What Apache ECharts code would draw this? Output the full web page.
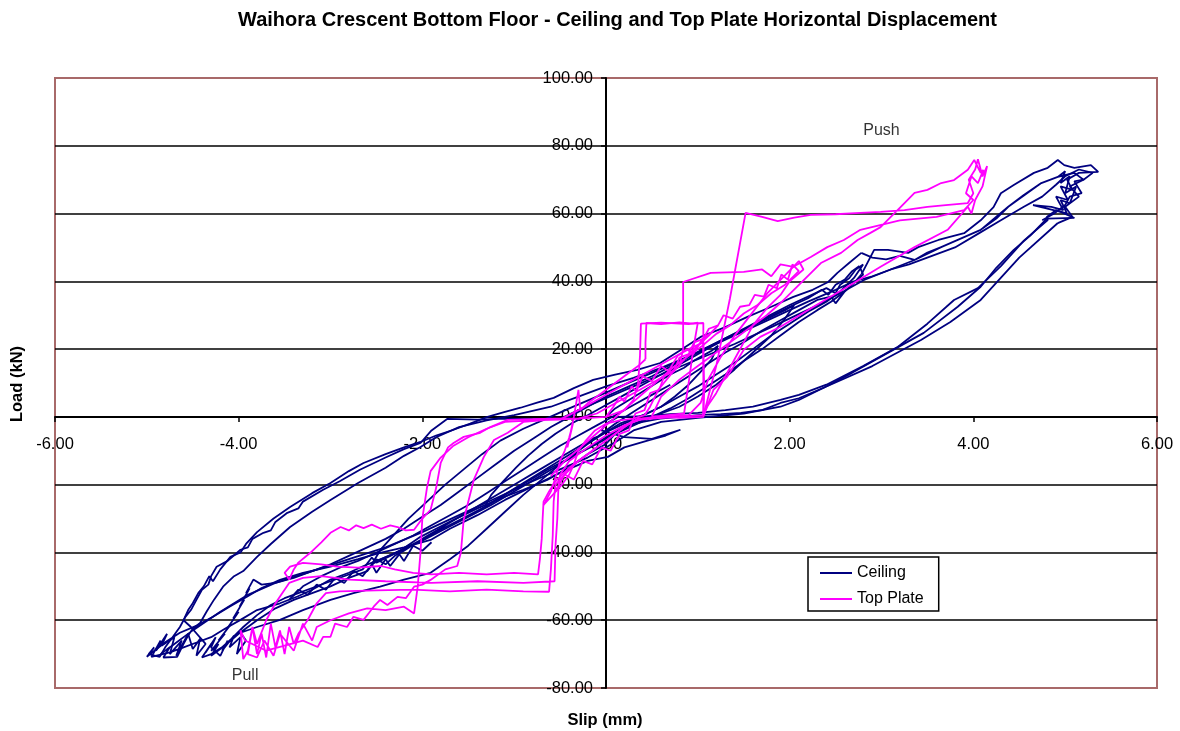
<!DOCTYPE html>
<html>
<head>
<meta charset="utf-8">
<script src="https://cdn.jsdelivr.net/npm/echarts@6/dist/echarts.min.js"></script>
<style>
html,body{margin:0;padding:0;background:#fff;}
#chart{width:1180px;height:731px;}
</style>
</head>
<body>
<div id="chart"></div>
<script>
// Slip (mm) vs load (kN) traces, stored as [slip, load] pairs per loading stage.
const yTicks = [-80, -60, -40, -20, 0, 20, 40, 60, 80, 100];
const xTicks = [-6, -4, -2, 0, 2, 4, 6];

// ---- Ceiling ----
const ceilingSmall = [
  [0,0],[0.1,2.5],[0.25,5],[0.4,7.5],[0.55,10],[0.7,12.5],[0.85,14.5],[0.95,16.5],[1.05,18],[1.15,19.5],[1.22,21],
  [1.15,17],[1.02,13],[0.9,9.5],[0.75,6],[0.6,3],[0.45,1],[0.3,-0.5],[0.15,-2],[0,-4.5],[-0.15,-7],[-0.3,-9.5],[-0.45,-12],[-0.6,-14.5],[-0.75,-17],[-0.9,-19.5],[-1.05,-22],[-1.2,-24.5],[-1.32,-26.5],
  [-1.25,-23],[-1.12,-19],[-0.98,-15],[-0.85,-11.5],[-0.7,-8],[-0.55,-5],[-0.38,-2],[-0.2,0.5],[0,3.5],[0.2,6.5],[0.4,9.5],[0.6,12.5],[0.8,15.5],[1.0,18.5],[1.2,21.5],[1.4,24.5],[1.6,27],[1.8,29.5],[1.95,31.5],[2.05,33],
  [1.95,29],[1.8,24],[1.6,19],[1.4,14],[1.2,9.5],[1.0,6],[0.8,3],[0.6,1],[0.4,-1],[0.2,-3],[0,-6],[-0.25,-10],[-0.5,-14],[-0.75,-18],[-1.0,-22],[-1.25,-26],[-1.5,-29.5],[-1.75,-33],[-2.0,-36.5],[-2.25,-39.5],[-2.45,-42],[-2.55,-43.5],
  [-2.45,-39],[-2.3,-34.5],[-2.15,-30],[-1.95,-25],[-1.75,-20],[-1.55,-15.5],[-1.35,-11],[-1.15,-7],[-0.9,-3.5],[-0.65,-0.5],[-0.4,2.5],[-0.1,6],[0.2,9.5],[0.5,13],[0.8,16.5],[1.1,20.5],[1.4,24.5],[1.7,28.5],[2.0,32.5],[2.2,35],[2.35,37.5],[2.42,36],[2.5,39],[2.6,40.5],[2.68,43],[2.76,44.5]
];
const ceilingMid = [
  [2.76,44.5],[2.8,42],[2.72,40],[2.6,37],[2.45,34],[2.3,31.5],[2.1,28],[1.9,24],[1.7,20],[1.5,16.5],[1.3,12.5],[1.1,9],[0.9,5.5],[0.7,2.5],[0.5,0],[0.3,-2.5],[0.1,-5],[-0.1,-8],[-0.35,-11.5],[-0.6,-15],[-0.85,-19],[-1.1,-23],[-1.35,-27],[-1.6,-30.5],[-1.85,-34],[-2.1,-37.5],[-2.35,-41],[-2.5,-43],[-2.55,-41.5],[-2.65,-45],[-2.8,-46.5],[-3.0,-48.5],[-3.2,-50.5],[-3.35,-52],[-3.5,-53.5],[-3.65,-55.5],[-3.8,-58.5],[-3.95,-62],[-4.08,-65.5],[-4.2,-68.5],[-4.3,-70.5],
  [-4.22,-67],[-4.3,-69],[-4.15,-64],[-4.22,-66],[-4.08,-61],[-4.14,-63],[-4.0,-57.5],[-4.06,-59.5],[-3.94,-54],[-3.99,-56],[-3.88,-50.5],[-3.92,-52],[-3.84,-48],
  [-3.75,-49.5],[-3.6,-49],[-3.4,-47.5],[-3.2,-45.5],[-3.0,-43.5],[-2.8,-41],[-2.6,-38.5],[-2.4,-36],[-2.2,-33],[-2.0,-29.5],[-1.8,-26],[-1.6,-22],[-1.4,-18],[-1.2,-14],[-1.0,-10],[-0.8,-6.5],[-0.6,-3],[-0.4,0],[-0.2,3],[0,6],[0.25,9],[0.5,12],[0.75,15.5],[1.0,19],[1.25,22.5],[1.5,26],[1.75,29.5],[2.0,33],[2.2,35.5],[2.4,38],[2.5,36.5],[2.55,39],[2.65,41],[2.72,43.5],[2.8,45],
  [2.7,41],[2.55,37],[2.4,34],[2.2,31],[2.0,27.5],[1.8,24],[1.6,20],[1.4,16],[1.2,12.5],[1.0,9],[0.8,6],[0.6,3],[0.4,0.5],[0.2,-2],[0,-4.5],[-0.25,-8],[-0.5,-12],[-0.75,-16],[-1.0,-20],[-1.25,-24],[-1.5,-28],[-1.75,-32],[-2.0,-36],[-2.2,-39.5],[-2.3,-41],[-2.4,-43.5],[-2.5,-42],[-2.6,-45.5],[-2.8,-47.5],[-3.0,-50],[-3.2,-52],[-3.4,-54],[-3.6,-56.5],[-3.8,-60],[-4.0,-64],[-4.15,-67.5],[-4.3,-70],[-4.4,-71],
  [-4.3,-67],[-4.36,-69.5],[-4.25,-65],[-4.3,-68],[-4.2,-70.5],[-4.12,-66],[-4.18,-69],[-4.05,-64.5],[-4.1,-68],[-3.98,-65],[-4.02,-70],[-3.92,-66],[-3.98,-63.7],[-3.8,-62],[-3.55,-59.9],[-3.3,-57],[-3.0,-54],[-2.75,-52],[-2.46,-50.1],[-2.2,-48],[-1.91,-46],[-1.7,-42],[-1.5,-38],[-1.3,-33],[-1.1,-28],[-0.9,-23],[-0.7,-18.5],[-0.5,-14],[-0.3,-10],[-0.1,-6],[0.1,-2],[0.3,1.5],[0.5,5],[0.7,8.5],[0.9,12],[1.1,15.5],[1.3,19],[1.5,22],[1.7,25.5],[1.9,28.5],[2.1,31.5],[2.3,34.5],[2.45,35.5],[2.5,33.5],[2.6,37],[2.7,39.5],[2.78,42]
];
const ceilingJag = [
  [-1.9,-37],[-2.0,-39.5],[-2.1,-38],[-2.2,-42.5],[-2.25,-40.5],[-2.35,-44],[-2.4,-42],[-2.5,-46],[-2.55,-43.5],[-2.65,-47],[-2.75,-45.5],[-2.85,-49],[-2.95,-47.5],[-3.05,-51],[-3.15,-49.5],[-3.25,-52.5],[-3.35,-51],[-3.45,-54],
  [-3.3,-50],[-3.1,-47],[-2.9,-44.5],[-2.7,-42.5],[-2.5,-40],[-2.3,-37.5],[-2.1,-35],[-1.9,-32],[-1.7,-29],[-1.5,-26],[-1.3,-22.5],[-1.1,-19],[-0.9,-15.5],[-0.7,-12],[-0.5,-8.5],[-0.3,-5.5],[-0.1,-2.5],[0.1,0.5],[0.3,3.5],[0.5,6.5],[0.7,9.5]
];
const ceilingBigA = [
  [2.78,42],[2.92,49.3],[3.07,49.3],[3.29,48.4],[3.4,50.1],[3.62,52.2],[3.9,54.2],[4.08,58],[4.22,61.9],[4.3,66],[4.44,68.4],[4.66,72],[4.81,73.5],[4.92,75.8],[4.99,74.3],[5.1,73.5],[5.28,74.3],[5.36,72.3],[5.15,72],[5.02,70],[5.08,67],[4.95,68],[5.03,64],[4.9,65],[4.98,61],[4.85,62],[4.65,62.5],[4.95,60.5],[5.1,58.7],[4.8,58.5],
  [4.62,53.5],[4.44,49.3],[4.25,44],[4.08,38.4],[3.83,32.5],[3.46,24.8],[2.99,17.7],[2.68,13],[2.37,8.6],[2.1,5.5],[1.9,4.1],[1.7,2],[1.47,1.2],[1.25,0.8],[1.03,0.6],[0.8,0],[0.59,-0.5],[0.4,-1.5],[0.25,-2.5],
  [0.1,-5],[0,-8],[-0.2,-11],[-0.39,-14.7],[-0.64,-18.6],[-0.9,-21.5],[-1.11,-23.6],[-1.4,-27],[-1.66,-30.4],[-1.85,-33],[-2.02,-35.4],[-2.27,-40],[-2.5,-42.5],[-2.64,-44],[-2.8,-46],[-3.0,-48],[-3.2,-51],[-3.36,-53],[-3.55,-55],[-3.8,-57],[-3.98,-59.9],[-4.15,-62.5],[-4.3,-65],[-4.45,-66.5],[-4.6,-68],[-4.75,-69.5],[-4.95,-70.8],
  [-4.85,-66],[-4.9,-69],[-4.78,-64],[-4.84,-67.5],[-4.7,-65],[-4.75,-70],[-4.62,-66],[-4.68,-70.5],[-4.55,-64],[-4.5,-68.5],[-4.42,-65.5],[-4.46,-70.5],[-4.36,-67],[-4.52,-62],
  [-4.6,-60],[-4.55,-57],[-4.5,-55],[-4.44,-52],[-4.38,-50],[-4.32,-47],[-4.28,-48.5],[-4.2,-45],[-4.09,-41.3],[-3.98,-40],[-3.92,-37.5],[-3.8,-34],[-3.62,-30],[-3.44,-26.6],[-3.2,-22.5],[-3.0,-19.5],[-2.8,-16],[-2.64,-13.6],[-2.4,-11],[-2.2,-9],[-2.02,-7.4],[-1.85,-5.5],[-1.66,-3.8],[-1.48,-2],[-1.29,0],[-1.1,1.5],[-0.93,2.7],[-0.75,4.2],[-0.57,5.6],[-0.35,8.5],[-0.14,10.9],[0.1,12.5],[0.34,13.9],[0.59,15.9],[0.8,19.5],[1.03,23.6],[1.3,26.5],[1.54,29.5],[1.8,32.5],[2.04,35.4],[2.25,37.5],[2.42,39.8],[2.52,42.5],[2.65,45.5],[2.78,48.4]
];
const ceilingBigB = [
  [2.78,48.4],[2.9,47],[3.05,46.5],[3.2,47.5],[3.36,46.3],[3.5,48.5],[3.65,50.1],[3.85,52.5],[4.08,55.2],[4.25,58.5],[4.38,62],[4.55,65.5],[4.74,69],[4.92,70.8],[5.0,72.5],[4.95,69],[5.05,71],[5.0,66],[5.12,68],[5.05,63],[4.95,64],[5.02,60],[4.9,61],[4.8,59],
  [4.81,58.1],[4.55,52],[4.3,44.5],[4.05,38],[3.79,34.5],[3.5,27.5],[3.18,20.7],[2.8,15],[2.4,9.5],[2.1,6.5],[1.9,5],[1.6,3],[1.3,2],[1.0,1.2],[0.7,0.8],[0.45,0.2],[0.13,0],[0.0,-2],[-0.05,-4],[0.2,-6],[0.5,-6.5],[0.81,-3.8],[0.65,-5.5],[0.48,-6.8],[0.2,-9],[0.02,-11.8],[-0.2,-13],[-0.5,-16.5],[-0.8,-20.5],[-1.1,-24.5],[-1.4,-29],[-1.7,-33],[-1.91,-36.3],[-2.2,-38.5],[-2.46,-40.1],[-2.7,-42],[-3.0,-44.2],[-3.3,-46],[-3.55,-48.1],[-3.75,-50.5],[-3.91,-53.1],[-4.1,-56],[-4.28,-59],[-4.45,-61.5],[-4.64,-63.7],[-4.8,-66.5],[-5.0,-70.8],
  [-4.92,-68],[-4.98,-70],[-4.86,-70.8],[-4.8,-68],[-4.72,-65],[-4.64,-62],[-4.58,-59],[-4.52,-57],[-4.46,-54],[-4.4,-51],[-4.33,-49.5],[-4.3,-47],[-4.24,-44.2],[-4.12,-42.5],[-3.98,-39.2],[-3.9,-38.5],[-3.85,-36],[-3.73,-34.2],[-3.65,-33.5],[-3.6,-31],[-3.47,-28.3],[-3.35,-27],[-3.3,-25],[-3.08,-21.5],[-2.9,-19],[-2.68,-15.6],[-2.4,-12],[-2.2,-9.5],[-2.02,-7.7],[-1.9,-4],[-1.73,-0.6],[-1.4,-0.8],[-1.1,-0.5],[-0.8,-0.7],[-0.5,-0.6],
  [-0.3,2],[0,5.5],[0.3,9],[0.6,12.5],[1.0,17],[1.4,21.5],[1.8,26.5],[2.26,32.4],[2.55,36.5],[2.81,40.4],[3.1,43.5],[3.36,46.3],[3.65,50.1],[4.08,55.2],[4.38,62],[4.74,69],[4.92,70.8],[5.1,72],[5.2,70],[5.05,68],[5.15,65],[5.0,62],[5.08,59],[4.92,57.2]
];
const ceilingBigC = [
  [4.92,57.2],[4.5,47],[4.08,34.5],[3.75,28],[3.43,22.7],[2.9,15],[2.37,8.6],[2.1,5],[1.9,3],[1.5,1],[1.0,-0.3],[0.6,-1.5],[0.3,-4],[0.1,-7.5],[-0.2,-12],[-0.5,-15.5],[-0.8,-19],[-1.2,-24],[-1.6,-29],[-2.0,-34],[-2.4,-38.5],[-2.8,-42],[-3.2,-45.5],[-3.6,-49],[-3.9,-52.5],[-4.2,-57.5],[-4.5,-63],[-4.7,-67],[-4.85,-70],
  [-4.75,-68],[-4.82,-71],[-4.67,-70.8],[-4.6,-67],[-4.55,-64.5],[-4.5,-62.5],[-4.42,-60.8],[-4.35,-57.5],[-4.27,-54],[-4.17,-50.1],[-4.05,-47],[-3.95,-45.5],[-3.8,-41.3],[-3.65,-37.5],[-3.44,-32.5],[-3.2,-28],[-3.0,-24.5],[-2.7,-19.5],[-2.4,-15],[-2.2,-11.5],[-2.02,-8.9],[-1.85,-6],[-1.6,-3],[-1.3,-1],[-1.0,0.5],[-0.6,3],[-0.3,6],[0,9],[0.3,11.5],[0.6,14.5],[1.0,19],[1.4,24],[1.8,29],[2.2,34],[2.5,37.5],[2.7,40],[2.9,41.5],[3.1,43.5],[3.3,45],[3.55,47.5],[3.8,50],[4.05,54],[4.3,58],[4.55,62],[4.75,65],[4.9,68.5],[5.0,71],[5.15,73],[5.3,72],[5.2,70],[5.1,69.5],[5.18,66],[5.05,65],[5.0,62.5],[4.88,60],[4.75,58]
];

// ---- Top Plate ----
const topPlateSmall = [
  [0,0],[0.08,3],[0.15,6],[0.2,4.5],[0.28,9],[0.33,7.5],[0.4,12],[0.5,10.5],[0.6,15],[0.68,13.5],[0.78,18],[0.88,20],[0.95,18.5],[1.05,23],[1.15,25],[1.22,27],
  [1.12,24],[0.92,19],[0.72,13],[0.57,8],[0.48,3],[0.42,0.5],[0.3,-0.5],[0.15,-1],[0,-2],[-0.12,-4],[-0.22,-7],[-0.3,-10],[-0.35,-14],[-0.4,-17],[-0.48,-20],[-0.58,-23],[-0.68,-26],
  [-0.6,-22],[-0.55,-18],[-0.5,-13],[-0.45,-10],[-0.4,-6],[-0.36,-2],[-0.42,-9],[-0.35,0],[-0.3,8],[-0.28,2],[-0.2,4],[-0.05,7],[0.1,10],[0.25,13],[0.35,15],[0.43,17]
];
const topPlateBand = [
  [-0.55,-22],[-0.45,-17],[-0.35,-18.5],[-0.25,-13],[-0.15,-14],[-0.05,-9],[0.05,-10],[0.15,-5],[0.25,-4],[0.32,1],[0.42,2],[0.48,7],[0.58,8],[0.64,12.5],[0.74,13.5],[0.8,17.5],[0.9,18.5],[0.96,22],[1.06,23],[1.12,26],[1.22,27],[1.28,30],[1.38,29],[1.46,32.5],[1.56,33],[1.62,36],[1.72,35.5],[1.77,39],[1.86,38],[1.91,42],[1.98,40.5],[2.03,45],[2.1,43],
  [1.95,39],[1.8,36.5],[1.65,33],[1.5,30.5],[1.35,27],[1.2,24.5],[1.05,21],[0.9,18],[0.75,15],[0.6,11.5],[0.45,8],[0.3,4.5],[0.15,1],[0,-2.5],[-0.15,-6],[-0.3,-9.5],[-0.45,-13],[-0.6,-17.5]
];
const topPlateStepA = [
  [0.43,17],[0.43,22],[0.44,27.7],[0.6,27.4],[0.8,27.9],[0.95,27.5],[1.06,27.7],[1.06,18],[1.07,8],[1.06,0.5],[0.8,0],[0.55,-0.3],[0.35,-0.5],[0.2,-3],[0.05,-6],[-0.1,-9],[-0.25,-12],[-0.4,-15],[-0.55,-19],[-0.62,-22],[-0.68,-25],[-0.69,-30],[-0.7,-36],[-0.72,-42],[-0.74,-46.5],[-1.0,-46],[-1.3,-46.5],[-1.6,-46],[-1.9,-46.5],[-2.1,-46],[-2.3,-45],[-2.45,-44],[-2.7,-44.5],[-2.93,-44.2],[-3.1,-43.5],[-3.3,-43.1],[-3.44,-44.2],[-3.5,-46],[-3.45,-48],[-3.4,-45],
  [-3.35,-43],[-3.22,-40.1],[-3.1,-37],[-3.0,-34.2],[-2.89,-32.5],[-2.8,-33.5],[-2.72,-32],[-2.64,-32.8],[-2.55,-31.8],[-2.45,-33],[-2.35,-32],[-2.27,-32.5],[-2.18,-33.5],[-2.09,-33.3],[-2.0,-30],[-1.91,-27.4],[-1.85,-21],[-1.8,-13.6],[-1.72,-9],[-1.66,-7.7],[-1.55,-5.9],[-1.37,-4.7],[-1.26,-3],[-1.07,-0.9],[-0.8,-0.7],[-0.55,-0.5],[-0.3,-0.5],
  [-0.1,1],[0.1,4],[0.3,7],[0.5,10],[0.7,13],[0.8,15],[0.84,20],[0.84,30],[0.84,39.8],[1.14,42.5],[1.5,42.8],[1.7,43.5],[1.8,41.5],[1.9,45],[2.04,44.3],[2.1,46],[2.15,43.5],
  [2.0,40],[1.9,36],[1.75,32],[1.6,27],[1.5,22],[1.4,17],[1.3,12],[1.2,7],[1.1,3],[1.05,0.5],[0.8,0],[0.5,-0.5],[0.3,-1]
];
const topPlateStepB = [
  [0.3,-1],[0.15,-4],[0,-7],[-0.15,-10],[-0.3,-13],[-0.45,-17],[-0.55,-20],[-0.57,-25],[-0.58,-35],[-0.6,-45],[-0.62,-51.6],[-0.9,-51.5],[-1.3,-51],[-1.7,-51.5],[-2.1,-51],[-2.5,-51.2],[-2.9,-51.5],[-3.05,-52],[-3.15,-55],[-3.25,-60],[-3.35,-64],
  [-3.4,-67],[-3.45,-62],[-3.5,-70],[-3.55,-63],[-3.6,-68],[-3.65,-61],[-3.7,-71],[-3.75,-64],[-3.8,-70],[-3.85,-62],[-3.9,-69],[-3.95,-71.5],[-3.98,-63],[-3.93,-66],
  [-3.7,-69],[-3.5,-67.5],[-3.3,-66],[-3.14,-67.9],[-3.08,-64.9],[-3.0,-64.9],[-2.95,-61],[-2.82,-62],[-2.75,-59],[-2.64,-59.9],[-2.58,-57.8],[-2.53,-56],[-2.46,-54],[-2.38,-55.5],[-2.27,-53.1],[-2.18,-53.5],[-2.09,-50.1],[-2.0,-49.5],[-1.91,-48.1],[-1.75,-45],[-1.62,-44],[-1.58,-40],[-1.55,-30.4],[-1.44,-18.6],[-1.33,-11.8],[-1.22,-6.8],[-1.07,-4.7],[-0.9,-1.5],[-0.6,-0.8],[-0.3,-0.5],[0,0],
  [0.2,2],[0.3,5],[0.35,10],[0.37,18],[0.38,27.5],[0.6,27.8],[0.9,27.4],[1.0,27.8],[0.95,20],[0.9,10],[0.85,1],[0.6,0.3],[0.4,-0.5],[0.2,-2.5],[0,-5.5],[-0.2,-9],[-0.4,-13],[-0.5,-17],[-0.52,-22],[-0.53,-30],[-0.55,-38],[-0.56,-48.5],[-0.9,-49],[-1.4,-48.5],[-1.9,-49],[-2.4,-48.5],[-2.8,-48],[-3.1,-47],[-3.3,-47.5],[-3.45,-49],[-3.6,-55],[-3.7,-60],[-3.8,-67],[-3.85,-62],[-3.9,-70],[-3.8,-71],[-3.72,-66],[-3.62,-70.5],[-3.55,-64],[-3.4,-69],[-3.3,-61],[-3.2,-66],[-3.15,-62],
  [-3.0,-60],[-2.8,-58],[-2.6,-56.5],[-2.4,-57],[-2.2,-56],[-2.09,-58],[-2.05,-50],[-2.02,-40],[-2.0,-30],[-1.95,-21],[-1.91,-16],[-1.8,-12],[-1.66,-8.5],[-1.5,-6],[-1.3,-3.5],[-1.1,-1.5],[-0.8,-1],[-0.5,-0.8]
];
const topPlatePush = [
  [-0.5,-0.8],[-0.3,2],[-0.1,5],[0.1,8],[0.3,11],[0.5,14],[0.7,17],[0.9,20],[1.06,22],[1.06,12],[1.06,4],[1.06,0.3],
  [1.2,15],[1.35,35],[1.52,60.2],[1.7,59],[1.87,57.8],[2.05,58.8],[2.23,59.6],[2.5,59.8],[2.77,60.2],[2.99,60.5],[3.25,61],[3.5,62],[3.7,62.5],[3.94,63.1],[4.0,66],[3.95,70],[4.02,73],[4.05,76],[4.1,71],[4.15,74],[4.1,68],[4.02,64],[3.98,60],
  [3.94,62],[3.72,55.2],[3.36,50.1],[2.99,44.3],[2.63,38.4],[2.26,32.5],[1.9,26.6],[1.68,23.6],[1.5,19.8],[1.32,11.8],[1.17,8],[1.06,0],[0.8,-0.3],[0.5,0.2],
  [0.6,6],[0.8,11],[1.0,15],[1.2,19],[1.4,23],[1.6,27],[1.75,30],[1.9,33.6],[2.12,39.5],[2.34,45.4],[2.56,48.4],[2.74,52.2],[2.88,54.3],[2.99,56],[3.21,62],[3.36,66.1],[3.5,67],[3.65,69],[3.79,69.9],[3.94,72.9],[4.01,75.8],[4.08,72],[4.11,72.9],[4.05,69],[3.98,71],[3.92,66],[4.0,64],[3.9,61],
  [3.6,59],[3.2,58],[2.77,55.2],[2.59,52.2],[2.41,50.1],[2.23,47.2],[2.04,44.3],[1.76,36.6],[1.39,23.6],[1.25,17.7],[1.11,10.9],[1.03,4.1],[0.9,0.5],[0.6,0]
];

const NAVY = '#000080';
const MAGENTA = '#ff00ff';
const ceilingSets = [ceilingSmall, ceilingMid, ceilingJag, ceilingBigA, ceilingBigB, ceilingBigC];
const topPlateSets = [topPlateSmall, topPlateBand, topPlateStepA, topPlateStepB, topPlatePush];

const notes = [[3.0, 84.4, 'Push'], [-3.93, -76.4, 'Pull']];

const fontFamily = '"Liberation Sans", Arial, sans-serif';

// plot rectangle
const GRID = { left: 55, right: 23, top: 78, bottom: 43 };
const W = 1180, H = 731;
const plotW = W - GRID.left - GRID.right;
const plotH = H - GRID.top - GRID.bottom;
// the axes cross at the origin; shift them in from the plot edges
const xMin = xTicks[0], xMax = xTicks[xTicks.length - 1];
const yMin = yTicks[0], yMax = yTicks[yTicks.length - 1];
const yAxisShift = -plotW * (0 - xMin) / (xMax - xMin);
const xAxisShift = -plotH * (0 - yMin) / (yMax - yMin);

function traceSeries(name, color, data) {
  return {
    name, type: 'line', data, color,
    symbol: 'none', showSymbol: false, smooth: false,
    lineStyle: { color, width: 1.8 },
    silent: true, animation: false
  };
}

const series = [];
ceilingSets.forEach(d => series.push(traceSeries('Ceiling', NAVY, d)));
topPlateSets.forEach(d => series.push(traceSeries('Top Plate', MAGENTA, d)));
series.push({
  name: 'notes', type: 'scatter', data: notes, symbolSize: 0, silent: true, animation: false,
  label: { show: true, position: 'inside', formatter: p => p.value[2], color: '#000', fontSize: 16, fontFamily }
});

const splitColors = yTicks.map((v, i) => (i === 0 || i === yTicks.length - 1) ? '#a86a6a' : '#000');

const chart = echarts.init(document.getElementById('chart'), null, { renderer: 'canvas' });
chart.setOption({
  animation: false,
  backgroundColor: '#fff',
  title: {
    text: 'Waihora Crescent Bottom Floor - Ceiling and Top Plate Horizontal Displacement',
    left: 233, top: 5,
    textStyle: { fontFamily, fontSize: 20, fontWeight: 'bold', color: '#000' }
  },
  grid: {
    left: GRID.left, right: GRID.right, top: GRID.top, bottom: GRID.bottom,
    show: true, borderColor: '#a86a6a', borderWidth: 2, backgroundColor: '#fff'
  },
  legend: {
    data: ['Ceiling', 'Top Plate'],
    orient: 'vertical', left: 808, top: 557,
    icon: 'rect', itemWidth: 32, itemHeight: 2, itemGap: 10,
    padding: [8, 15, 4, 12],
    backgroundColor: '#fff', borderColor: '#000', borderWidth: 1.5,
    textStyle: { fontFamily, fontSize: 16, color: '#000' },
    selectedMode: false
  },
  xAxis: {
    type: 'value', min: xMin, max: xMax, interval: 2,
    position: 'bottom', offset: xAxisShift,
    axisLine: { onZero: false, lineStyle: { color: '#000', width: 2 } },
    axisTick: { show: true, length: 5, lineStyle: { color: '#000', width: 1.5 } },
    axisLabel: { formatter: v => v.toFixed(2), color: '#000', fontSize: 16.5, fontFamily, margin: 19, showMinLabel: true, showMaxLabel: true, hideOverlap: false },
    splitLine: { show: false }
  },
  yAxis: {
    type: 'value', min: yMin, max: yMax, interval: 20,
    position: 'left', offset: yAxisShift,
    axisLine: { onZero: false, lineStyle: { color: '#000', width: 2 } },
    axisTick: { show: true, length: 5, lineStyle: { color: '#000', width: 1.5 } },
    axisLabel: { formatter: v => v.toFixed(2), color: '#000', fontSize: 16.5, fontFamily, margin: 13, showMinLabel: true, showMaxLabel: true, hideOverlap: false },
    splitLine: { show: true, lineStyle: { color: splitColors, width: 1.5 } }
  },
  graphic: [
    { type: 'text', x: 17, y: 384, rotation: Math.PI / 2,
      style: { text: 'Load (kN)', fill: '#000', font: 'bold 16.5px ' + fontFamily, align: 'center', verticalAlign: 'middle' } },
    { type: 'text', x: 605, y: 720,
      style: { text: 'Slip (mm)', fill: '#000', font: 'bold 16.5px ' + fontFamily, align: 'center', verticalAlign: 'middle' } }
  ],
  series
});
</script>
</body>
</html>
